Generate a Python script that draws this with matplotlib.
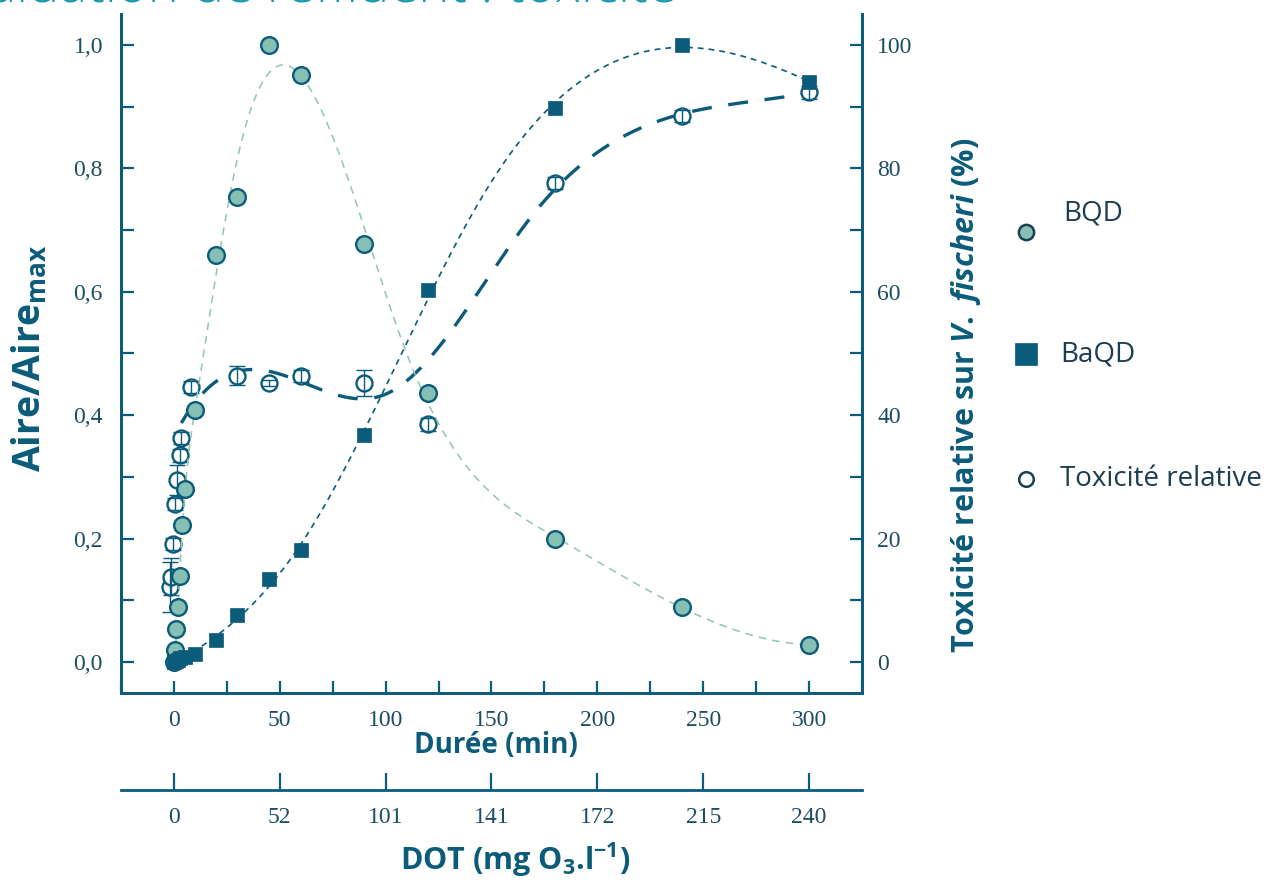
import numpy as np
import matplotlib
matplotlib.use("Agg")
import matplotlib.pyplot as plt
from matplotlib.lines import Line2D

# ---------------- data ----------------
bqd_t = [0, 0.5, 1, 2, 3, 4, 5, 10, 20, 30, 45, 60, 90, 120, 180, 240, 300]
bqd_v = [0.0, 0.02, 0.053, 0.089, 0.14, 0.222, 0.28, 0.408, 0.66, 0.754, 1.0, 0.951, 0.678, 0.436, 0.199, 0.089, 0.028]

baqd_t = [0, 1, 2, 3, 5, 10, 20, 30, 45, 60, 90, 120, 180, 240, 300]
baqd_v = [0.0, 0.002, 0.004, 0.006, 0.009, 0.013, 0.036, 0.077, 0.134, 0.181, 0.368, 0.603, 0.898, 1.0, 0.94]

tox_t = [-2, -1.5, -0.5, 0.5, 1.5, 3, 3.5, 8, 30, 45, 60, 90, 120, 180, 240, 300]
tox_v = [12.2, 13.8, 19.1, 25.6, 29.5, 33.5, 36.3, 44.6, 46.4, 45.2, 46.4, 45.2, 38.5, 77.6, 88.5, 92.3]
tox_e = [4.0, 3.0, 1.0, 1.0, 2.4, 1.0, 1.0, 1.0, 1.5, 0.5, 1.0, 2.1, 1.0, 1.0, 1.0, 1.0]

x_ticks = [0, 50, 100, 150, 200, 250, 300]
dot_labels = ["0", "52", "101", "141", "172", "215", "240"]
left_ticks = [0.0, 0.2, 0.4, 0.6, 0.8, 1.0]
right_ticks = [0, 20, 40, 60, 80, 100]

# ---------------- fitting helpers ----------------
def bspline_basis(x, inner, lo, hi, k=3):
    x = np.asarray(x, float)
    t = np.concatenate([[lo] * (k + 1), inner, [hi] * (k + 1)])
    B = np.zeros((len(x), len(t) - 1))
    for i in range(len(t) - 1):
        B[:, i] = ((x >= t[i]) & (x < t[i + 1])).astype(float)
    last = np.where(t[:-1] < t[1:])[0][-1]
    B[x >= t[-1], last] = 1.0
    for d in range(1, k + 1):
        Bn = np.zeros((len(x), len(t) - 1 - d))
        for i in range(len(t) - 1 - d):
            a = np.zeros(len(x))
            b = np.zeros(len(x))
            if t[i + d] > t[i]:
                a = (x - t[i]) / (t[i + d] - t[i]) * B[:, i]
            if t[i + d + 1] > t[i + 1]:
                b = (t[i + d + 1] - x) / (t[i + d + 1] - t[i + 1]) * B[:, i + 1]
            Bn[:, i] = a + b
        B = Bn
    return B


def ls_spline(x, y, inner, lo, hi, grid, w=None):
    Bx = bspline_basis(x, inner, lo, hi)
    y = np.asarray(y, float)
    if w is None:
        w = np.ones(len(y))
    w = np.asarray(w, float)
    c, *_ = np.linalg.lstsq(Bx * w[:, None], y * w, rcond=None)
    return bspline_basis(grid, inner, lo, hi) @ c

# ---------------- style ----------------
DARK = "#0b5b7b"
FILL = "#86bfb3"
LIGHT = "#8fc5b9"
TICKC = "#1d4d63"

plt.rcParams["mathtext.fontset"] = "custom"
plt.rcParams["mathtext.rm"] = "Open Sans:bold"
plt.rcParams["mathtext.it"] = "Open Sans:bold:italic"
plt.rcParams["mathtext.bf"] = "Open Sans:bold"

fig = plt.figure(figsize=(12.75, 8.88), dpi=100)
W, H = 1275, 888
ax = fig.add_axes([121 / W, 1 - 693 / H, (862 - 121) / W, (693 - 14) / H])
ax2 = ax.twinx()

ax.set_xlim(-25, 325)
ax.set_ylim(-0.05, 1.05)
ax2.set_ylim(-5, 105)

# curves
g1 = np.linspace(0, 300, 600)
c1 = ls_spline(bqd_t, bqd_v, [3, 10, 30, 65, 110, 180], 0, 300, g1)
ax.plot(g1, c1, color=LIGHT, lw=1.1, ls=(0, (5, 4)), zorder=2)

g2 = np.linspace(0, 300, 600)
c2 = ls_spline(baqd_t, baqd_v, [60, 150], 0, 300, g2)
ax.plot(g2, c2, color=DARK, lw=1.2, ls=(0, (3.5, 3)), zorder=2)

tt = np.array(tox_t)
mask = tt >= 3.5
wts = np.where(tt[mask] == 120, 0.5, 1.0)
g3 = np.linspace(3.5, 300, 600)
c3 = ls_spline(tt[mask], np.array(tox_v)[mask], [100, 170], 3.5, 300, g3, w=wts)
ax2.plot(g3, c3, color=DARK, lw=2.4, ls=(0, (6, 5)), zorder=2)

# markers
ax.plot(bqd_t, bqd_v, ls="none", marker="o", ms=12, mfc=FILL, mec=DARK, mew=1.7, zorder=4)
ax.plot(baqd_t, baqd_v, ls="none", marker="s", ms=10.5, mfc=DARK, mec=DARK, mew=0.5, zorder=5)
ax2.plot(tox_t, tox_v, ls="none", marker="o", ms=11.5, mfc="white", mec=DARK, mew=1.7, zorder=6)
ax2.errorbar(tox_t, tox_v, yerr=tox_e, fmt="none", ecolor=DARK, elinewidth=1.0,
             capsize=5.5, capthick=1.0, zorder=7)

ax.set_zorder(ax2.get_zorder() + 1)
ax.patch.set_visible(False)

# spines / ticks
for a in (ax, ax2):
    for s in a.spines.values():
        s.set_color(DARK)
        s.set_linewidth(2.0)
ax.spines["top"].set_visible(False)
ax2.spines["top"].set_visible(False)

ax.set_xticks(x_ticks)
ax.set_xticks(np.arange(-25, 326, 25), minor=True)
ax.set_xticklabels([str(v) for v in x_ticks])
ax.set_yticks(left_ticks)
ax.set_yticks(np.arange(0, 1.01, 0.1), minor=True)
ax.set_yticklabels([f"{v:.1f}".replace(".", ",") for v in left_ticks])
ax2.set_yticks(right_ticks)
ax2.set_yticks(np.arange(0, 101, 10), minor=True)
ax2.set_yticklabels([str(v) for v in right_ticks])

TFS = 17
for a in (ax, ax2):
    a.tick_params(which="major", direction="in", length=9, width=1.6, color=DARK,
                  labelcolor=TICKC, pad=12)
    a.tick_params(which="minor", direction="in", length=9, width=1.6, color=DARK)
ax.tick_params(axis="y", which="both", right=False, pad=13)
ax2.tick_params(axis="y", which="both", left=False, pad=11)
for lab in ax.get_xticklabels() + ax.get_yticklabels() + ax2.get_yticklabels():
    lab.set_fontfamily("Liberation Serif")
    lab.set_fontsize(TFS)

# secondary x axis (DOT)
ax3 = ax.twiny()
ax3.set_xlim(ax.get_xlim())
ax3.xaxis.set_ticks_position("bottom")
ax3.xaxis.set_label_position("bottom")
ax3.spines["bottom"].set_position(("outward", 70))
for k, s in ax3.spines.items():
    s.set_visible(k == "bottom")
ax3.spines["bottom"].set_color(DARK)
ax3.spines["bottom"].set_linewidth(2.0)
ax3.set_xticks(x_ticks)
ax3.set_xticklabels(dot_labels)
ax3.tick_params(axis="x", direction="in", length=12, width=1.6, color=DARK,
                labelcolor=TICKC, pad=12)
for lab in ax3.get_xticklabels():
    lab.set_fontfamily("Liberation Serif")
    lab.set_fontsize(TFS)

# labels
lab_kw = dict(color=DARK, fontfamily="Open Sans", fontweight="bold")
fig.text(496 / W, 1 - 745 / H, "Durée (min)", ha="center", va="center", fontsize=20, **lab_kw)
fig.text(515 / W, 1 - 860 / H, "DOT (mg O$_3$.l$^{-1}$)", ha="center", va="center",
         fontsize=22, **lab_kw)
fig.text(30 / W, 1 - 358 / H, "Aire/Aire$_{\\mathrm{max}}$", ha="center", va="center",
         rotation=90, fontsize=27, **lab_kw)
fig.text(966 / W, 1 - 395 / H, "Toxicité relative sur $\\mathit{V.\\ fischeri}$ (%)",
         ha="center", va="center", rotation=90, fontsize=22, **lab_kw)

# legend (manual)
LEGC = "#1c3d52"
leg_font = dict(fontsize=20, fontfamily="Open Sans", color=LEGC, va="center", ha="left")
fig.add_artist(Line2D([1026 / W], [1 - 232 / H], transform=fig.transFigure, ls="none",
                      marker="o", ms=11, mfc=FILL, mec=LEGC, mew=1.8))
fig.text(1063 / W, 1 - 213 / H, "BQD", **leg_font)
fig.add_artist(Line2D([1026 / W], [1 - 354 / H], transform=fig.transFigure, ls="none",
                      marker="s", ms=16, mfc=DARK, mec=DARK, mew=0.5))
fig.text(1060 / W, 1 - 354 / H, "BaQD", **leg_font)
fig.add_artist(Line2D([1026 / W], [1 - 479 / H], transform=fig.transFigure, ls="none",
                      marker="o", ms=10.5, mfc="white", mec=LEGC, mew=1.8))
fig.text(1060 / W, 1 - 479 / H, "Toxicité relative", **leg_font)

# cropped title strip at the very top
fig.text(677 / W, 1 - 2 / H, "Évaluation de l'effluent : toxicité", ha="right",
         va="baseline", fontsize=38, fontfamily="Open Sans", fontweight="light",
         color="#1a9ab0")

fig.savefig("out.png", dpi=100)
